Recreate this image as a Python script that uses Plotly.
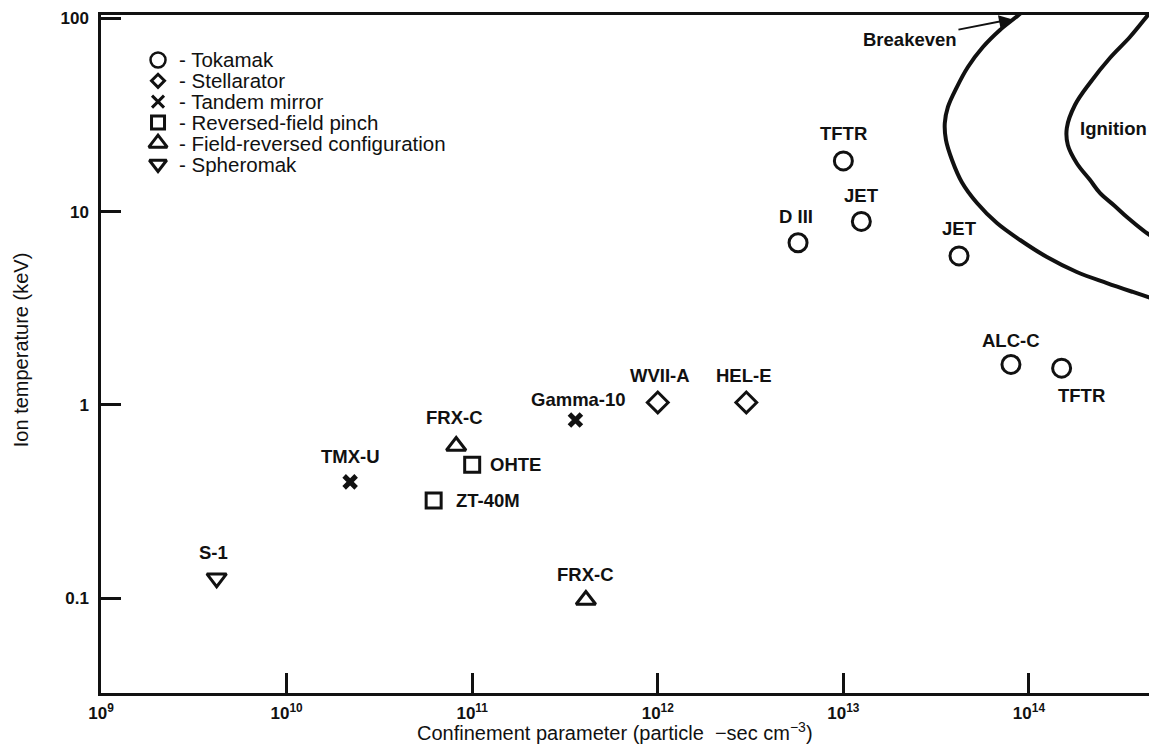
import numpy as np
import plotly.graph_objects as go

# ---------------- data ----------------
tokamak_names = ["TFTR", "JET", "D III", "JET", "ALC-C", "TFTR"]
tokamak_x = [1.0e13, 1.25e13, 5.7e12, 4.2e13, 8.0e13, 1.5e14]
tokamak_y = [18.3, 8.9, 6.9, 5.9, 1.62, 1.55]

stell_names = ["WVII-A", "HEL-E"]
stell_x = [1.0e12, 3.0e12]
stell_y = [1.03, 1.03]

mirror_names = ["TMX-U", "Gamma-10"]
mirror_x = [2.2e10, 3.6e11]
mirror_y = [0.40, 0.835]

rfp_names = ["OHTE", "ZT-40M"]
rfp_x = [1.0e11, 6.2e10]
rfp_y = [0.49, 0.32]

frc_names = ["FRX-C", "FRX-C"]
frc_x = [8.2e10, 4.1e11]
frc_y = [0.613, 0.098]

sph_names = ["S-1"]
sph_x = [4.2e9]
sph_y = [0.127]

breakeven_x = [1.08e14, 8.8e13, 6.98e13, 5.65e13, 4.69e13, 4.09e13, 3.66e13, 3.52e13,
               3.57e13, 3.85e13, 4.35e13, 5.25e13, 6.72e13, 8.96e13, 1.25e14, 1.81e14,
               2.63e14, 3.63e14, 4.9e14, 6.5e14]
breakeven_y = [124, 104, 87.0, 71.0, 56.0, 44.1, 34.8, 28.7,
               23.5, 18.5, 14.2, 11.08, 8.73, 7.13, 5.82, 4.87,
               4.27, 3.84, 3.49, 3.21]

ignition_x = [5.08e14, 4.38e14, 3.50e14, 2.73e14, 2.13e14, 1.77e14, 1.60e14, 1.62e14,
              1.81e14, 2.13e14, 2.41e14, 2.90e14, 3.37e14, 4.11e14, 4.90e14, 6.5e14]
ignition_y = [124, 104, 80.0, 62.3, 46.3, 35.6, 27.1, 22.1,
              17.8, 14.6, 12.5, 10.7, 9.38, 8.03, 7.13, 6.11]

legend_labels = ["Tokamak", "Stellarator", "Tandem mirror", "Reversed-field pinch",
                 "Field-reversed configuration", "Spheromak"]

x_tick_vals = [1e9, 1e10, 1e11, 1e12, 1e13, 1e14]
x_tick_text = ["10<sup>9</sup>", "10<sup>10</sup>", "10<sup>11</sup>",
               "10<sup>12</sup>", "10<sup>13</sup>", "10<sup>14</sup>"]
y_tick_vals = [0.1, 1, 10, 100]
y_tick_text = ["0.1", "1", "10", "100"]

breakeven_tip = (8.1e13, 99.0)
ignition_label_pos = (2.87e14, 26.8)

# ---------------- styles ----------------
FONT = "Liberation Sans, Arial, Helvetica, sans-serif"
BLACK = "#111111"

# label offsets (px): (xshift, yshift, xanchor)
tokamak_shift = [(0, 27, "center"), (0, 26, "center"), (-2, 26, "center"),
                 (0, 27, "center"), (0, 24, "center"), (20, -27, "center")]
stell_shift = [(2, 27, "center"), (-2, 27, "center")]
mirror_shift = [(0, 25, "center"), (3, 21, "center")]
rfp_shift = [(16, 0, "left"), (20, 0, "left")]
frc_shift = [(-2, 29, "center"), (0, 25, "center")]
sph_shift = [(-3, 26, "center")]

groups = [
    (tokamak_names, tokamak_x, tokamak_y, tokamak_shift, "circle-open", 18, 3),
    (stell_names, stell_x, stell_y, stell_shift, "diamond-open", 16, 3),
    (mirror_names, mirror_x, mirror_y, mirror_shift, "x-thin-open", 12, 5),
    (rfp_names, rfp_x, rfp_y, rfp_shift, "square-open", 15, 3),
    (frc_names, frc_x, frc_y, frc_shift, "triangle-up-open", 17, 3),
    (sph_names, sph_x, sph_y, sph_shift, "triangle-down-open", 17, 3),
]
legend_marker_style = [("circle-open", 15, 2.5), ("diamond-open", 10, 3),
                       ("x-thin-open", 12, 3), ("square-open", 13, 3),
                       ("triangle-up-open", 16, 3), ("triangle-down-open", 15, 3)]

fig = go.Figure()

# curves
fig.add_trace(go.Scatter(x=breakeven_x, y=breakeven_y, mode="lines",
                         line=dict(color=BLACK, width=4, shape="spline"),
                         hoverinfo="skip", showlegend=False))
fig.add_trace(go.Scatter(x=ignition_x, y=ignition_y, mode="lines",
                         line=dict(color=BLACK, width=4, shape="spline"),
                         hoverinfo="skip", showlegend=False))

annotations = []
for names, xs, ys, shifts, sym, size, lw in groups:
    fig.add_trace(go.Scatter(
        x=xs, y=ys, mode="markers",
        marker=dict(symbol=sym, size=size, color=BLACK, line=dict(width=lw, color=BLACK)),
        showlegend=False, hoverinfo="skip"))
    for n, xv, yv, (dx, dy, xa) in zip(names, xs, ys, shifts):
        annotations.append(dict(
            x=np.log10(xv), y=np.log10(yv), xref="x", yref="y", text=n,
            showarrow=False, xshift=dx, yshift=dy, xanchor=xa, yanchor="middle",
            font=dict(family=FONT, size=18.5, color=BLACK, weight="bold")))

# legend (drawn on an overlay axis in row units)
rows = list(range(len(legend_labels)))
for r, (sym, size, lw) in zip(rows, legend_marker_style):
    fig.add_trace(go.Scatter(
        x=[0.054], y=[r], xaxis="x2", yaxis="y2", mode="markers",
        marker=dict(symbol=sym, size=size, color=BLACK, line=dict(width=lw, color=BLACK)),
        showlegend=False, hoverinfo="skip"))
for r, lab in zip(rows, legend_labels):
    annotations.append(dict(
        x=0.0715, y=r, xref="x2", yref="y2", text="- " + lab, showarrow=False,
        xanchor="left", yanchor="middle",
        font=dict(family=FONT, size=20.5, color=BLACK)))

# Breakeven arrow label
annotations.append(dict(
    x=np.log10(breakeven_tip[0]), y=np.log10(breakeven_tip[1]), xref="x", yref="y",
    text="Breakeven", showarrow=True, ax=-102, ay=20, arrowhead=2, arrowsize=1.3,
    arrowwidth=2, arrowcolor=BLACK, standoff=0,
    font=dict(family=FONT, size=18.5, color=BLACK, weight="bold")))
annotations.append(dict(
    x=np.log10(ignition_label_pos[0]), y=np.log10(ignition_label_pos[1]),
    xref="x", yref="y", text="Ignition", showarrow=False,
    font=dict(family=FONT, size=18.5, color=BLACK, weight="bold")))

# axis titles
annotations.append(dict(
    x=0.4867, y=-0.0575, xref="paper", yref="paper",
    text="Confinement parameter (particle \u00a0\u2212sec cm<sup>\u22123</sup>)",
    showarrow=False, xanchor="center", yanchor="middle",
    font=dict(family=FONT, size=20, color=BLACK)))
annotations.append(dict(
    x=-0.0755, y=0.506, xref="paper", yref="paper", text="Ion temperature (keV)",
    textangle=-90, showarrow=False, xanchor="center", yanchor="middle",
    font=dict(family=FONT, size=20, color=BLACK)))

# the page body adds an 8 px margin, so the figure is 8 px smaller and shifted
fig.update_layout(
    template="none",
    width=1149, height=736,
    margin=dict(l=93, r=0, t=7, b=51, autoexpand=False),
    paper_bgcolor="white", plot_bgcolor="white",
    showlegend=False,
    annotations=annotations,
    xaxis=dict(type="log", range=[9.0, 14.69], showgrid=False, zeroline=False,
               automargin=False,
               showline=True, linecolor=BLACK, linewidth=2.5, mirror=True,
               ticks="inside", ticklen=20, tickwidth=2.5, tickcolor=BLACK,
               tickvals=x_tick_vals, ticktext=x_tick_text, ticklabelstandoff=3,
               tickfont=dict(family=FONT, size=17, color=BLACK, weight="bold")),
    yaxis=dict(type="log", range=[-1.49, 2.017], showgrid=False, zeroline=False,
               automargin=False,
               showline=True, linecolor=BLACK, linewidth=2.5,
               ticks="inside", ticklen=20, tickwidth=2.5, tickcolor=BLACK,
               tickvals=y_tick_vals, ticktext=y_tick_text, ticklabelstandoff=6,
               tickfont=dict(family=FONT, size=17, color=BLACK, weight="bold")),
    xaxis2=dict(overlaying="x", range=[0, 1], visible=False, anchor="y2",
                automargin=False),
    yaxis2=dict(overlaying="y", range=[30.43, -2.163], visible=False, anchor="x2",
                automargin=False),
)

fig.write_html("out.html")
